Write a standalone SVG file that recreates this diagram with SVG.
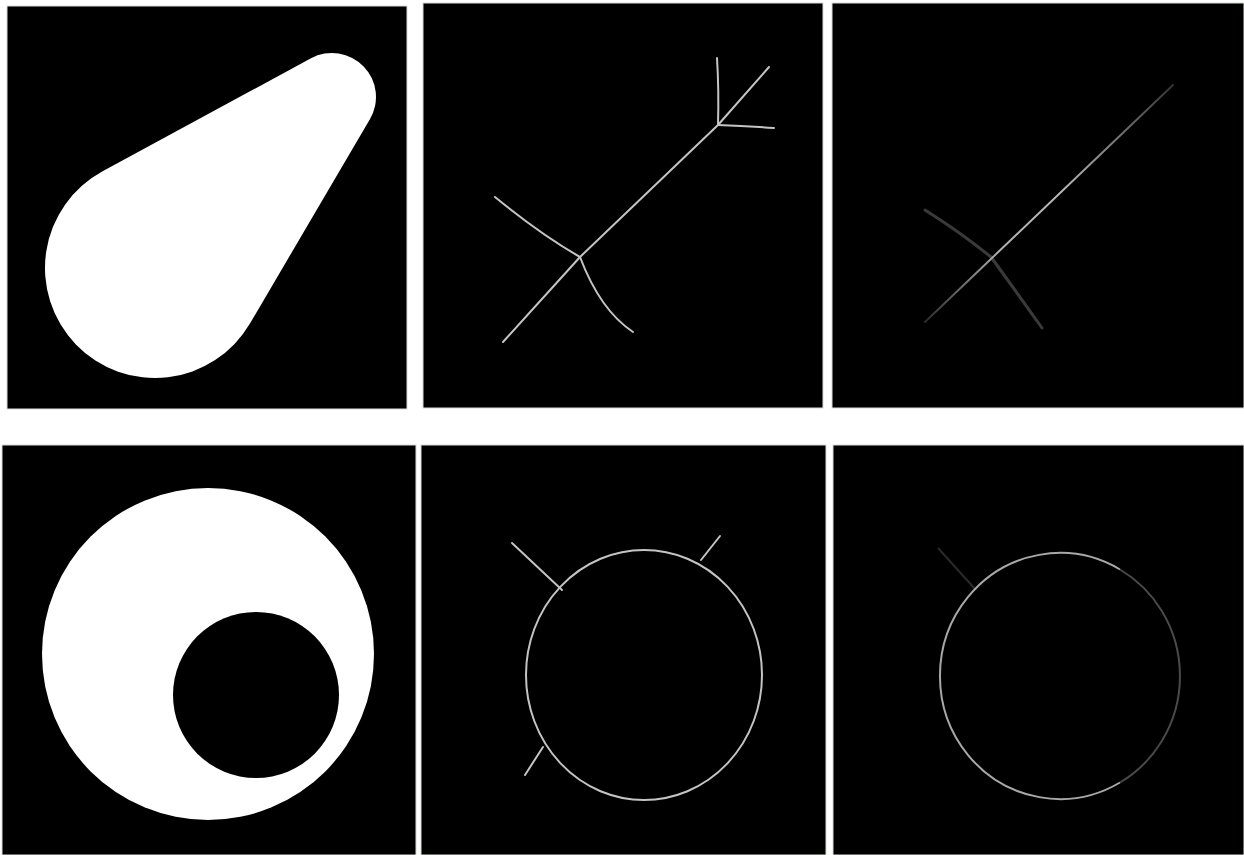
<svg xmlns="http://www.w3.org/2000/svg" width="1244" height="855" viewBox="0 0 1244 855">
<style>
.bg{fill:#000;stroke:#d8dcd8;stroke-width:1}
.skel{fill:none;stroke:#c4c4c4;stroke-width:2;stroke-linecap:round;stroke-linejoin:round}
.faint{fill:none;stroke:#3a3a3a;stroke-width:3;stroke-linecap:round}
.solid{fill:#fff}
</style>
<defs>
<linearGradient id="g3" gradientUnits="userSpaceOnUse" x1="925" y1="322" x2="1173" y2="85">
<stop offset="0" stop-color="#2a2a2a"/>
<stop offset="0.3" stop-color="#b0b0b0"/>
<stop offset="0.55" stop-color="#b8b8b8"/>
<stop offset="1" stop-color="#333"/>
</linearGradient>
</defs>
<rect width="1244" height="855" fill="#fff"/>
<g id="panel-teardrop">
<rect class="bg" x="7" y="6" width="400" height="403"/>
<path class="solid" d="M249.8 323.8 L369.9 119.3 A44 44 0 0 0 311 58.3 L102.6 171.3 A110 110 0 1 0 249.8 323.8 Z"/>
</g>
<g id="panel-skeleton-top">
<rect class="bg" x="423" y="3" width="400" height="405"/>
<path class="skel" d="M503 342 L580 257 L718 125"/>
<path class="skel" d="M718 125 Q719 90 717 58"/>
<path class="skel" d="M718 125 L769 67"/>
<path class="skel" d="M718 125 Q745 126 774 128"/>
<path class="skel" d="M495 197 Q540 234 580 257"/>
<path class="skel" d="M580 257 Q600 310 633 332"/>
</g>
<g id="panel-pruned-top">
<rect class="bg" x="832" y="3" width="412" height="405"/>
<path class="faint" d="M925 210 Q960 232 991 257 Q1015 290 1042 328"/>
<path d="M925 322 L1173 85" fill="none" stroke="url(#g3)" stroke-width="2" stroke-linecap="round"/>
</g>
<g id="panel-ring">
<rect class="bg" x="2" y="445" width="414" height="410"/>
<circle class="solid" cx="208" cy="654" r="166"/>
<circle cx="256" cy="695" r="83" fill="#000"/>
</g>
<g id="panel-skeleton-bottom">
<rect class="bg" x="421" y="445" width="405" height="410"/>
<ellipse class="skel" cx="644" cy="675" rx="118" ry="125" stroke="#aaa"/>
<path class="skel" d="M562 590 L512 543" stroke="#aaa"/>
<path class="skel" d="M701 560 L720 536" stroke="#aaa"/>
<path class="skel" d="M543 747 L525 775" stroke="#aaa"/>
</g>
<g id="panel-pruned-bottom">
<rect class="bg" x="833" y="445" width="411" height="410"/>
<path d="M938 548 L975 589" fill="none" stroke="#2a2a2a" stroke-width="2"/>
<path d="M1120 569.5 A120 123 0 1 0 1120 782.5" fill="none" stroke="#a8a8a8" stroke-width="2"/>
<path d="M1120 782.5 A120 123 0 0 0 1120 569.5" fill="none" stroke="#4a4a4a" stroke-width="2"/>
</g>
</svg>
